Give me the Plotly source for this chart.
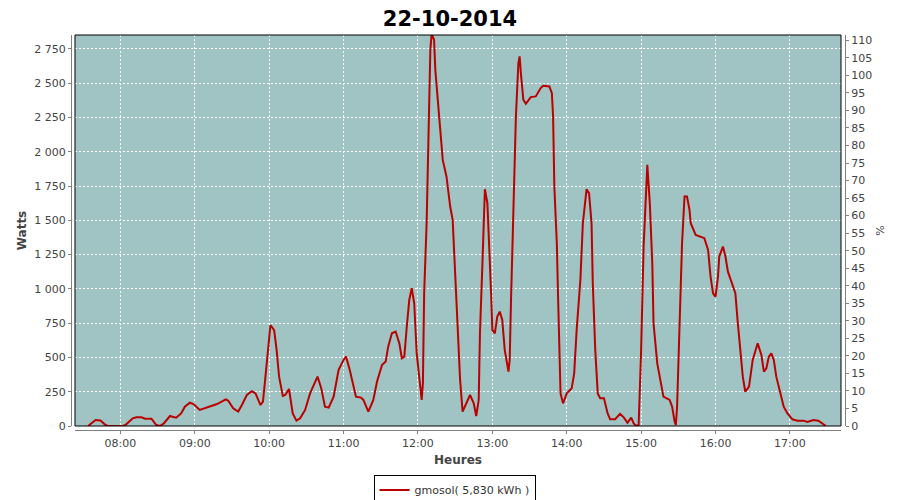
import plotly.graph_objects as go

DATE = "2014-10-22"
TITLE = "22-10-2014"
SERIES_NAME = "gmosol( 5,830 kWh )"

times = [
    "07:34", "07:37", "07:40", "07:44", "07:48", "07:50", "08:02", "08:04", "08:10", "08:13",
    "08:17", "08:20", "08:25", "08:29", "08:31", "08:32", "08:35", "08:40", "08:42", "08:45",
    "08:49", "08:52", "08:56", "08:59", "09:04", "09:08", "09:12", "09:18", "09:25", "09:27",
    "09:31", "09:35", "09:38", "09:42", "09:46", "09:49", "09:53", "09:55", "09:57", "09:59",
    "10:01", "10:04", "10:06", "10:08", "10:11", "10:13", "10:16", "10:19", "10:22", "10:25",
    "10:29", "10:33", "10:39", "10:42", "10:45", "10:48", "10:52", "10:56", "11:00", "11:02",
    "11:05", "11:10", "11:14", "11:16", "11:20", "11:24", "11:27", "11:31", "11:34", "11:36",
    "11:39", "11:42", "11:45", "11:47", "11:49", "11:51", "11:53", "11:55", "11:57", "11:59",
    "12:01", "12:03", "12:04", "12:05", "12:07", "12:08", "12:09", "12:10", "12:11", "12:13",
    "12:14", "12:16", "12:18", "12:20", "12:23", "12:26", "12:28", "12:30", "12:32", "12:34",
    "12:36", "12:40", "12:42", "12:45", "12:47", "12:49", "12:50", "12:52", "12:54", "12:56",
    "12:57", "12:59", "13:00", "13:02", "13:04", "13:06", "13:08", "13:10", "13:13", "13:14",
    "13:15", "13:17", "13:19", "13:21", "13:22", "13:23", "13:25", "13:27", "13:31", "13:35",
    "13:39", "13:41", "13:46", "13:48", "13:49", "13:50", "13:52", "13:53", "13:54", "13:55",
    "13:57", "14:00", "14:04", "14:06", "14:08", "14:11", "14:13", "14:16", "14:18", "14:20",
    "14:21", "14:23", "14:25", "14:27", "14:30", "14:33", "14:35", "14:39", "14:43", "14:46",
    "14:49", "14:52", "14:54", "14:56", "14:58", "15:00", "15:02", "15:04", "15:05", "15:07",
    "15:09", "15:10", "15:13", "15:16", "15:18", "15:23", "15:25", "15:27", "15:28", "15:29",
    "15:31", "15:33", "15:35", "15:37", "15:39", "15:40", "15:44", "15:51", "15:54", "15:56",
    "15:58", "16:00", "16:02", "16:03", "16:06", "16:08", "16:10", "16:12", "16:16", "16:18",
    "16:20", "16:22", "16:24", "16:27", "16:30", "16:33", "16:34", "16:37", "16:39", "16:41",
    "16:43", "16:45", "16:47", "16:49", "16:52", "16:55", "16:58", "17:02", "17:06", "17:11",
    "17:14", "17:19", "17:23", "17:26", "17:29",
]

watts = [
    0, 25, 44, 40, 7, 0, 0, 7, 56, 63,
    63, 53, 53, 7, 0, 0, 19, 73, 68, 61,
    92, 141, 170, 160, 117, 129, 146, 160, 195, 185,
    129, 105, 153, 226, 253, 238, 153, 178, 360, 579,
    735, 700, 555, 360, 219, 226, 270, 92, 39, 56,
    117, 238, 360, 275, 141, 134, 214, 409, 482, 506,
    409, 214, 207, 190, 105, 190, 324, 445, 470, 579,
    676, 689, 603, 494, 506, 725, 920, 1005, 895, 530,
    336, 190, 311, 968, 1479, 1990, 2452, 2744, 2860, 2817,
    2598, 2367, 2160, 1941, 1820, 1601, 1504, 1139, 701, 336,
    105, 190, 226, 165, 73, 190, 676, 1187, 1727, 1625,
    1431, 968, 701, 676, 798, 834, 774, 555, 397, 482,
    895, 1528, 2258, 2647, 2696, 2574, 2380, 2350, 2399, 2404,
    2465, 2482, 2477, 2428, 2258, 1747, 1333, 944, 603, 238,
    165, 238, 275, 384, 701, 1066, 1479, 1727, 1698, 1479,
    1041, 555, 238, 202, 202, 92, 49, 49, 88, 63,
    24, 61, 19, 0, 7, 555, 1309, 1796, 1905, 1625,
    1187, 749, 457, 311, 214, 190, 141, 32, 7, 141,
    822, 1333, 1674, 1674, 1577, 1479, 1394, 1370, 1285, 1090,
    968, 944, 1090, 1236, 1309, 1236, 1126, 1078, 968, 749,
    579, 360, 250, 287, 482, 579, 603, 518, 397, 421,
    506, 530, 482, 360, 250, 141, 92, 49, 39, 39,
    29, 44, 39, 19, 0,
]

x_range = ["07:23:24", "17:41:12"]
watts_range = [0, 2852]
pct_range = [0, 111.5]

x = [f"{DATE} {t}" for t in times]

# The page body adds an 8px margin; size the figure so it fits the 900x500 window.
BODY = 8
W, H = 900 - BODY, 500 - BODY
ml, mr, mt, mb = 63, 55, 27, 70
pw, ph = W - ml - mr, H - mt - mb
gap = 4

axis_grey = "#808080"
text_grey = "#444444"

fig = go.Figure()
fig.add_trace(go.Scatter(
    x=x, y=watts, mode="lines", name=SERIES_NAME,
    line=dict(color="#bb0000", width=2),
))
# empty trace so the percentage axis is drawn
fig.add_trace(go.Scatter(
    x=[x[0]], y=[None], yaxis="y2", mode="lines",
    showlegend=False, hoverinfo="skip",
))

common_axis = dict(
    showline=True, linecolor=axis_grey, linewidth=1,
    ticks="outside", ticklen=3, tickcolor=axis_grey, tickwidth=1,
    zeroline=False, tickfont=dict(size=11, color=text_grey),
    automargin=False,
)

fig.update_layout(
    width=W, height=H,
    margin=dict(l=ml, r=mr, t=mt, b=mb, pad=0, autoexpand=False),
    paper_bgcolor="white", plot_bgcolor="#9fc4c3",
    separators=", ",
    font=dict(family="DejaVu Sans", size=11, color=text_grey),
    title=dict(text=f"<b>{TITLE}</b>", x=(450 - BODY) / W, xanchor="center",
               y=1 - 11 / H, yanchor="middle", yref="container",
               font=dict(size=21, color="black")),
    xaxis=dict(
        domain=[gap / pw, 1 - gap / pw], anchor="free", position=0,
        type="date", range=[f"{DATE} {x_range[0]}", f"{DATE} {x_range[1]}"],
        tick0=f"{DATE} 08:00", dtick=3600000, tickformat="%H:%M",
        showgrid=True, gridcolor="white", griddash="2px,2px", gridwidth=1,
        title=dict(text="<b>Heures</b>", font=dict(size=12, color=text_grey), standoff=6),
        **common_axis,
    ),
    yaxis=dict(
        domain=[gap / ph, 1], anchor="free", position=0,
        range=watts_range, dtick=250, tickformat=",d",
        showgrid=True, gridcolor="white", griddash="2px,2px", gridwidth=1,
        title=dict(text="<b>Watts</b>", font=dict(size=12, color=text_grey), standoff=4),
        **common_axis,
    ),
    yaxis2=dict(
        overlaying="y", side="right", anchor="free", position=1,
        range=pct_range, dtick=5, showgrid=False,
        title=dict(text="%", font=dict(size=11, color=text_grey), standoff=5),
        **common_axis,
    ),
    showlegend=True,
    legend=dict(
        orientation="h", x=(450 - BODY) / W, xanchor="center",
        yref="container", y=1 - (490 - BODY) / H, yanchor="middle",
        bordercolor="black", borderwidth=1, bgcolor="white",
        font=dict(size=11, color="#333333"), itemwidth=30,
    ),
    shapes=[dict(type="rect", xref="x domain", yref="y domain",
                 x0=0, x1=1, y0=0, y1=1, line=dict(color="black", width=1),
                 layer="above")],
)

fig.write_html("out.html")
